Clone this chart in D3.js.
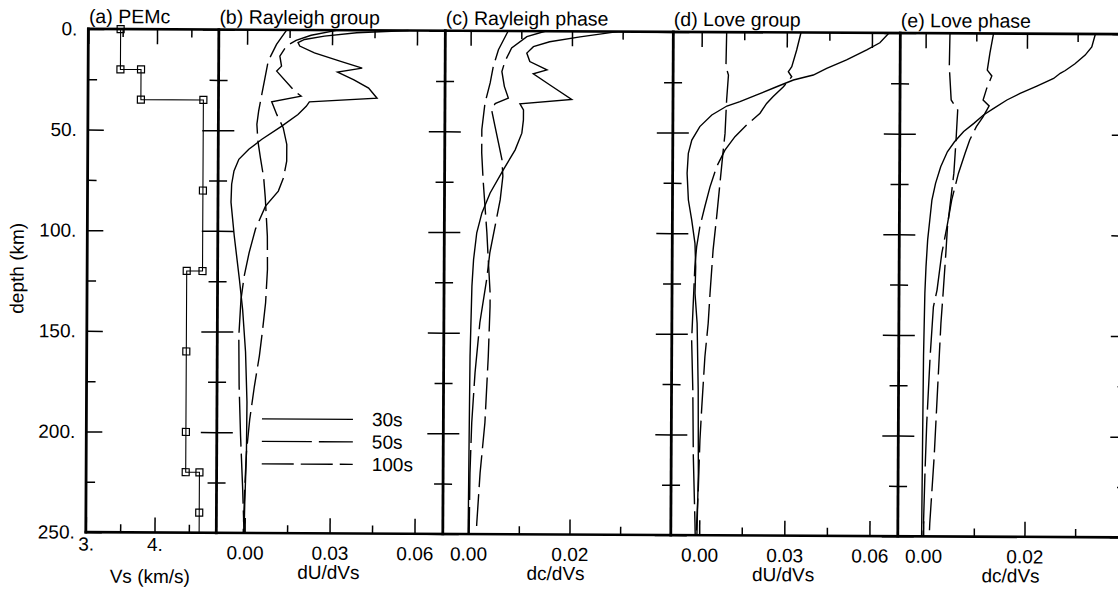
<!DOCTYPE html>
<html>
<head>
<meta charset="utf-8">
<title>PEMc sensitivity kernels</title>
<script src="https://cdn.jsdelivr.net/npm/d3@7"></script>
<style>
  body { margin: 0; background: #fff; }
  svg text { font-family: "Liberation Sans", Arial, Helvetica, sans-serif; font-size: 19px; fill: #000; }
  .tick line { stroke: #000; stroke-width: 1.5; }
</style>
</head>
<body>
<svg id="chart" width="1118" height="593"></svg>
<script>
// depth axis, km
const depthMajor = [0, 50, 100, 150, 200, 250];
const depthMinor = [25, 75, 125, 175, 225];

// (a) PEMc shear velocity model
const pemDepth = [0, 20, 20, 35, 35, 80, 120, 120, 160, 200, 220, 220, 240];
const pemVs = [3.47, 3.47, 3.77, 3.77, 4.68, 4.68, 4.68, 4.45, 4.45, 4.45, 4.45, 4.65, 4.65];
const pemBottom = 250;

// kernels as [depth km, derivative]
const rayGroup30 = [[0,0.057],[1.2,0.0387],[3,0.0273],[4.7,0.0203],[6.3,0.018],[8,0.0186],[11.3,0.0238],[15.5,0.0331],[18.8,0.0407],[20.8,0.032],[24.6,0.0378],[28.7,0.043],[33.7,0.046],[35.7,0.0221],[37.9,0.021],[42,0.0181],[47.8,0.0124],[54.4,0.0054],[59.4,0.0008],[64.4,-0.0027],[70.2,-0.0044],[76.8,-0.0052],[85.7,-0.0054],[102.4,-0.0042],[124,-0.0023],[139,-0.0011],[160,0],[185,0.0006],[210,0.0005],[235,0],[250,-0.0002]];
const rayGroup50 = [[0,0.032],[2.6,0.0226],[5.2,0.0173],[8,0.0139],[13,0.0116],[18,0.0122],[20.5,0.0105],[30.4,0.0169],[32.9,0.0192],[35.7,0.0088],[42,0.0106],[48.6,0.0129],[56.9,0.0142],[65.2,0.0142],[73.5,0.0131],[80.1,0.0113],[87.6,0.0068],[99,0.0033],[110.7,0.0011],[122.4,-0.0006],[134,-0.0017],[152.3,-0.0024],[177,-0.0022],[202,-0.0016],[227,-0.0008],[250,-0.0002]];
const rayGroup100 = [[0,0.014],[7.2,0.0104],[15.5,0.0075],[23.8,0.0064],[32,0.0053],[40.4,0.0042],[47,0.0036],[55.3,0.004],[63.5,0.0049],[73.5,0.0061],[83.4,0.0067],[102.5,0.0075],[119,0.0076],[135.6,0.007],[148.9,0.006],[162,0.0049],[177,0.0032],[193.6,0.0016],[210,0.0005],[226.7,0],[250,-0.0005]];

const rayPhase30 = [[0,0.029],[2.7,0.0216],[5.2,0.0156],[7.7,0.0124],[10.9,0.0111],[15.1,0.0117],[19.2,0.0151],[21.2,0.0124],[26.7,0.0157],[33.8,0.02],[36.1,0.0098],[39.1,0.0105],[44.1,0.0105],[50.7,0.0102],[59,0.0089],[68.9,0.0066],[80.5,0.004],[90.4,0.0024],[100.3,0.0014],[113.6,0.0008],[126.9,0.0005],[161.6,0.0002],[203,0.0001],[250,0]];
const rayPhase50 = [[0,0.0147],[2.7,0.0111],[8.4,0.0081],[15.1,0.0068],[20.1,0.0062],[27.5,0.0067],[33.3,0.0075],[36.1,0.0049],[39.1,0.0042],[47.4,0.0049],[55.6,0.0056],[63.9,0.0063],[72.2,0.0065],[83.8,0.006],[97.1,0.005],[110.3,0.004],[123.5,0.0034],[145,0.0021],[169.9,0.0012],[194.7,0.0006],[219.6,0.0003],[250,0.0002]];
const rayPhase100 = [[0,0.0074],[9.3,0.0055],[17.6,0.0045],[25.8,0.0039],[35.8,0.0029],[49,0.0023],[60.6,0.0023],[73.9,0.0026],[87.1,0.003],[100.3,0.0034],[113.6,0.0037],[130.2,0.0041],[136.8,0.0041],[161.6,0.0038],[194.7,0.0032],[219.6,0.0023],[244.4,0.0017],[250,0.0016]];

const loveGroup30 = [[0,0.066],[4.9,0.0628],[8.5,0.0582],[13.5,0.0511],[17.7,0.0441],[21.1,0.0394],[23.6,0.0324],[27,0.0265],[31.1,0.0195],[34.5,0.0136],[36.7,0.009],[41.2,0.0037],[47,-0.0005],[53.7,-0.0033],[60.3,-0.0045],[70.2,-0.0049],[83.5,-0.0044],[93.4,-0.0032],[105,-0.002],[116.6,-0.0017],[129.8,-0.0019],[144.7,-0.0011],[177.8,-0.0006],[219.2,-0.0004],[250,-0.0008]];
const loveGroup50 = [[0,0.035],[8.7,0.0335],[17,0.0318],[19.5,0.0306],[22,0.0318],[27,0.0289],[31.9,0.0253],[35.3,0.023],[40.2,0.0207],[46.1,0.016],[51.9,0.0119],[58.6,0.0084],[66.9,0.0055],[76.9,0.0032],[86.8,0.0014],[96.7,-0.0003],[106.7,-0.0014],[116.6,-0.002],[153,-0.003],[177.8,-0.0025],[211,-0.0022],[244,-0.0015],[250,-0.0014]];
const loveGroup100 = [[0,0.0088],[17.2,0.0086],[21.3,0.0095],[33.7,0.0089],[50.3,0.0084],[58.6,0.0078],[75.1,0.0067],[91.7,0.0056],[108.2,0.0044],[129.8,0.0034],[144.7,0.0028],[161.3,0.0017],[186.1,0.0007],[202.7,0.0001],[227.5,-0.0004],[244,-0.0009],[250,-0.001]];

const lovePhase30 = [[0,0.0335],[6.4,0.0328],[10.5,0.0315],[14.8,0.0295],[18.2,0.0276],[19.6,0.0266],[22.2,0.0253],[26,0.022],[29.7,0.0187],[33,0.0161],[37.2,0.0135],[40.5,0.0115],[44.7,0.0096],[48.8,0.0076],[53.9,0.0058],[58.9,0.0044],[66.3,0.0031],[74.6,0.0021],[82.9,0.0014],[92.8,0.001],[102.7,0.0006],[116,0.0003],[129.2,0.0001],[160.7,-0.0001],[202,-0.0002],[250,-0.0003]];
const lovePhase50 = [[0,0.0134],[9.8,0.0127],[18.2,0.0122],[21.1,0.0131],[27.3,0.0121],[33.1,0.0114],[36,0.0126],[41.4,0.0114],[46.3,0.0101],[53,0.0088],[59.6,0.0079],[69.6,0.0066],[82.9,0.0053],[96.1,0.0044],[109.4,0.0034],[127.6,0.0025],[135.9,0.0018],[160.7,0.0012],[193.8,0.0006],[218.6,0.0003],[250,0]];
const lovePhase100 = [[0,0.0048],[16.6,0.0047],[33.1,0.0051],[38.1,0.0064],[53,0.0061],[69.6,0.0057],[82.9,0.0051],[96.1,0.0045],[109.3,0.0042],[129.2,0.0037],[144.1,0.0033],[177.2,0.0027],[210.4,0.0021],[243.5,0.0013],[250,0.0012]];

const periods = ['30s', '50s', '100s'];
const dashes = [null, '50,7', '32,7'];

const f2 = d3.format('.2f');
const panels = [
  {title: '(a) PEMc', x0: 87, x1: 217.5, domain: [3, 4.9], major: [3, 4], minor: [3.5, 4.5],
   fmt: d => d + '.', label: 'Vs (km/s)', tickPad: 5, labelY: 585, curves: []},
  {title: '(b) Rayleigh group', x0: 217.5, x1: 444, domain: [-0.01, 0.07], major: [0, 0.03, 0.06], minor: [0.015, 0.045],
   fmt: f2, label: 'dU/dVs', tickPad: 13, labelY: 580, curves: [rayGroup30, rayGroup50, rayGroup100]},
  {title: '(c) Rayleigh phase', x0: 444, x1: 672, domain: [-0.005, 0.04], major: [0, 0.02], minor: [0.01, 0.03],
   fmt: f2, label: 'dc/dVs', tickPad: 13, labelY: 580, curves: [rayPhase30, rayPhase50, rayPhase100]},
  {title: '(d) Love group', x0: 672, x1: 899, domain: [-0.01, 0.07], major: [0, 0.03, 0.06], minor: [0.015, 0.045],
   fmt: f2, label: 'dU/dVs', tickPad: 13, labelY: 580, curves: [loveGroup30, loveGroup50, loveGroup100]},
  {title: '(e) Love phase', x0: 899, x1: 1127, domain: [-0.005, 0.04], major: [0, 0.02], minor: [0.01, 0.03],
   fmt: f2, label: 'dc/dVs', tickPad: 13, labelY: 580, curves: [lovePhase30, lovePhase50, lovePhase100]}
];

const W = 1118, H = 593, tilt = 0.29;   // the scan is slightly rotated
const svg = d3.select('#chart');
const root = svg.append('g').attr('transform', `rotate(${tilt},${W / 2},${H / 2})`);

const y = d3.scaleLinear().domain([0, 250]).range([31.3, 534.5]);
const [yTop, yBot] = y.range();
const noLabel = () => '';
const dropDomain = g => g.select('.domain').remove();

panels.forEach((p, i) => {
  const x = d3.scaleLinear().domain(p.domain).range([p.x0, p.x1]);
  const g = root.append('g').attr('class', 'panel');

  const xAxis = (axis, vals, size, fmt, pad) =>
    axis(x).tickValues(vals).tickSizeInner(-size).tickSizeOuter(0).tickPadding(pad).tickFormat(fmt);

  g.append('g').attr('transform', `translate(0,${yBot})`).call(xAxis(d3.axisBottom, p.major, 15, p.fmt, p.tickPad)).call(dropDomain);
  g.append('g').attr('transform', `translate(0,${yBot})`).call(xAxis(d3.axisBottom, p.minor, 8, noLabel, 0)).call(dropDomain);
  g.append('g').attr('transform', `translate(0,${yTop})`).call(xAxis(d3.axisTop, p.major, 15, noLabel, 0)).call(dropDomain);
  g.append('g').attr('transform', `translate(0,${yTop})`).call(xAxis(d3.axisTop, p.minor, 8, noLabel, 0)).call(dropDomain);

  // depth ticks: pointing right on the left edge, left on the right edge
  const yAxis = (axis, vals, size, fmt, pad) =>
    axis(y).tickValues(vals).tickSizeInner(-size).tickSizeOuter(0).tickPadding(pad).tickFormat(fmt);
  g.append('g').attr('transform', `translate(${p.x0},0)`)
    .call(yAxis(d3.axisLeft, depthMajor, 16, i === 0 ? (d => d + '.') : noLabel, 11)).call(dropDomain);
  g.append('g').attr('transform', `translate(${p.x0},0)`).call(yAxis(d3.axisLeft, depthMinor, 9, noLabel, 0)).call(dropDomain);
  g.append('g').attr('transform', `translate(${p.x1},0)`).call(yAxis(d3.axisRight, depthMajor, 16, noLabel, 0)).call(dropDomain);
  g.append('g').attr('transform', `translate(${p.x1},0)`).call(yAxis(d3.axisRight, depthMinor, 9, noLabel, 0)).call(dropDomain);

  g.selectAll('.tick text').attr('fill', '#000');

  // kernels
  const line = d3.line().x(d => x(d[1])).y(d => y(d[0]));
  p.curves.forEach((c, k) => {
    g.append('path').datum(c)
      .attr('d', line)
      .attr('fill', 'none')
      .attr('stroke', '#000')
      .attr('stroke-width', 1.4)
      .attr('stroke-dasharray', dashes[k]);
  });

  // PEMc profile
  if (i === 0) {
    const pts = pemDepth.map((d, j) => [d, pemVs[j]]);
    g.append('path').datum(pts.concat([[pemBottom, pemVs[pemVs.length - 1]]]))
      .attr('d', line)
      .attr('fill', 'none')
      .attr('stroke', '#000')
      .attr('stroke-width', 1.1);
    g.selectAll('.pem').data(pts).enter().append('rect')
      .attr('class', 'pem')
      .attr('x', d => x(d[1]) - 3.5)
      .attr('y', d => y(d[0]) - 3.5)
      .attr('width', 7)
      .attr('height', 7)
      .attr('fill', 'none')
      .attr('stroke', '#000')
      .attr('stroke-width', 1.2);
  }

  g.append('text')
    .attr('x', p.x0 + 0.5)
    .attr('y', 25.4)
    .style('font-size', '19.5px')
    .text(p.title);

  g.append('text')
    .attr('x', (p.x0 + p.x1) / 2 - 1)
    .attr('y', p.labelY)
    .attr('text-anchor', 'middle')
    .text(p.label);
});

// frame
const edges = panels.map(p => p.x0).concat([panels[panels.length - 1].x1]);
root.selectAll('.edge').data(edges).enter().append('line')
  .attr('class', 'edge')
  .attr('x1', d => d).attr('x2', d => d)
  .attr('y1', yTop).attr('y2', yBot)
  .attr('stroke', '#000')
  .attr('stroke-width', 2.8)
  .attr('stroke-linecap', 'square');
root.selectAll('.hedge').data([yTop, yBot]).enter().append('line')
  .attr('class', 'hedge')
  .attr('x1', edges[0]).attr('x2', edges[edges.length - 1])
  .attr('y1', d => d).attr('y2', d => d)
  .attr('stroke', '#000')
  .attr('stroke-width', 2.6)
  .attr('stroke-linecap', 'square');

root.append('text')
  .attr('transform', 'translate(23.4,271) rotate(-90)')
  .attr('text-anchor', 'middle')
  .text('depth (km)');

// legend inside panel (b)
const legend = root.append('g').attr('transform', 'translate(262.6,420.4)');
periods.forEach((name, k) => {
  legend.append('line')
    .attr('x1', 0).attr('x2', 91)
    .attr('y1', k * 22.5).attr('y2', k * 22.5)
    .attr('stroke', '#000')
    .attr('stroke-width', 1.4)
    .attr('stroke-dasharray', dashes[k]);
  legend.append('text')
    .attr('x', 110)
    .attr('y', k * 22.5)
    .attr('dy', '0.35em')
    .text(name);
});
</script>
</body>
</html>
